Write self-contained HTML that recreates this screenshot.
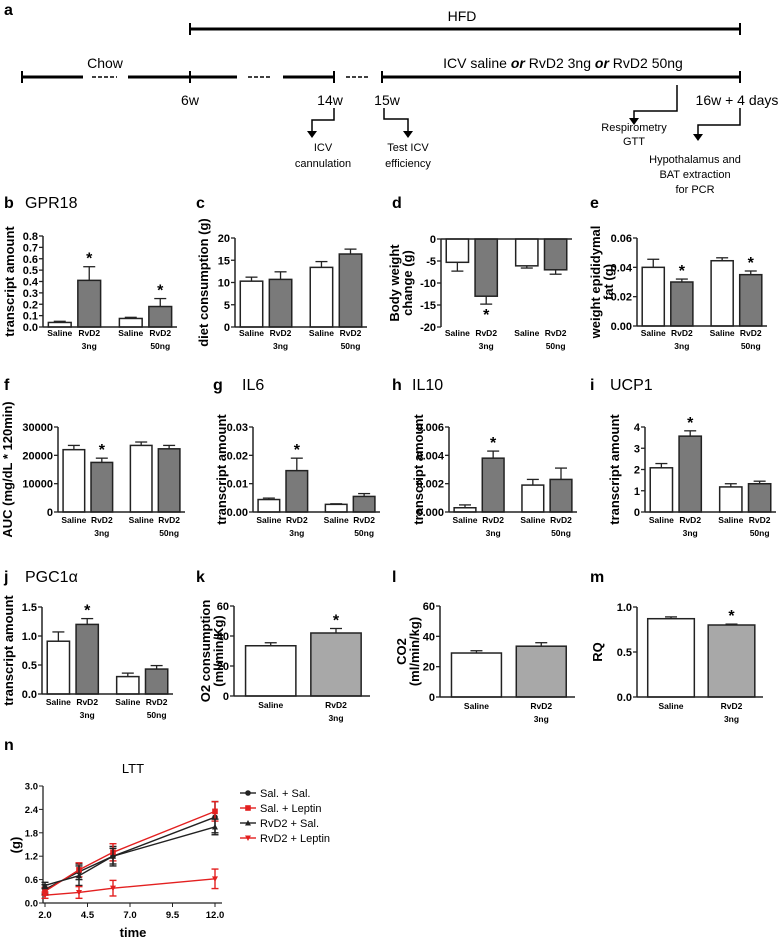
<!DOCTYPE html>
<html><head><meta charset="utf-8"><style>
body{margin:0;background:#fff}
svg{display:block;font-family:"Liberation Sans",sans-serif}
</style></head><body>
<svg id="fig" width="778" height="946" viewBox="0 0 778 946" xmlns="http://www.w3.org/2000/svg">
<g id="timeline" stroke="#000" fill="none">
<text x="4" y="15" font-size="16" font-weight="bold" fill="#000" stroke="none">a</text>
<line x1="190" y1="29" x2="740" y2="29" stroke-width="3"/>
<line x1="190" y1="23" x2="190" y2="35" stroke-width="2"/>
<line x1="740" y1="23" x2="740" y2="35" stroke-width="2"/>
<text x="462" y="21" font-size="14" text-anchor="middle" fill="#000" stroke="none">HFD</text>
<g stroke-width="3">
<line x1="22" y1="77" x2="83" y2="77"/><line x1="128" y1="77" x2="237" y2="77"/>
<line x1="283" y1="77" x2="334" y2="77"/><line x1="382" y1="77" x2="740" y2="77"/>
</g>
<g stroke-width="1.5" stroke-dasharray="4,2">
<line x1="92" y1="77" x2="117" y2="77"/><line x1="248" y1="77" x2="272" y2="77"/><line x1="346" y1="77" x2="370" y2="77"/>
</g>
<g stroke-width="2">
<line x1="22" y1="71" x2="22" y2="83"/><line x1="190" y1="71" x2="190" y2="83"/>
<line x1="334" y1="71" x2="334" y2="83"/><line x1="382" y1="71" x2="382" y2="83"/><line x1="740" y1="71" x2="740" y2="83"/>
</g>
<g fill="#000" stroke="none" font-size="14">
<text x="105" y="68" text-anchor="middle">Chow</text>
<text x="563" y="68" text-anchor="middle">ICV saline <tspan font-weight="bold" font-style="italic">or</tspan> RvD2 3ng <tspan font-weight="bold" font-style="italic">or</tspan> RvD2 50ng</text>
<text x="190" y="105" text-anchor="middle">6w</text>
<text x="330" y="105" text-anchor="middle">14w</text>
<text x="387" y="105" text-anchor="middle">15w</text>
<text x="737" y="105" text-anchor="middle">16w + 4 days</text>
</g>
<g stroke-width="1.5">
<polyline points="334,108 334,120 312,120 312,133"/>
<polyline points="384,108 384,119 408,119 408,133"/>
<polyline points="677,85 677,111 634,111 634,120"/>
<polyline points="740,108 740,125 698,125 698,136"/>
</g>
<g fill="#000" stroke="none">
<polygon points="307,131 317,131 312,138"/><polygon points="403,131 413,131 408,138"/>
<polygon points="629,118 639,118 634,125"/><polygon points="693,134 703,134 698,141"/>
</g>
<g fill="#000" stroke="none" font-size="11" text-anchor="middle">
<text x="323" y="151">ICV</text><text x="323" y="167">cannulation</text>
<text x="408" y="151">Test ICV</text><text x="408" y="167">efficiency</text>
<text x="634" y="131">Respirometry</text><text x="634" y="145">GTT</text>
<text x="695" y="163">Hypothalamus and</text><text x="695" y="178">BAT extraction</text><text x="695" y="193">for PCR</text>
</g>
</g>
<g id="letters" fill="#000" font-size="16" font-weight="bold">
<text x="4" y="208">b</text><text x="196" y="208">c</text><text x="392" y="208">d</text><text x="590" y="208">e</text>
<text x="4" y="390">f</text><text x="213" y="390">g</text><text x="392" y="390">h</text><text x="590" y="390">i</text>
<text x="4" y="582">j</text><text x="196" y="582">k</text><text x="392" y="582">l</text><text x="590" y="582">m</text>
<text x="4" y="750">n</text>
</g>
<g fill="#000" font-size="16">
<text x="25" y="208">GPR18</text><text x="242" y="390">IL6</text><text x="412" y="390">IL10</text><text x="610" y="390">UCP1</text>
<text x="25" y="582">PGC1α</text>
</g>
</svg>
<script>
const NS="http://www.w3.org/2000/svg";
const svg=document.getElementById('fig');
function mk(tag,attrs,parent,txt){const e=document.createElementNS(NS,tag);for(const k in attrs)e.setAttribute(k,attrs[k]);if(txt!==undefined)e.textContent=txt;(parent||svg).appendChild(e);return e;}

// ---- bar chart data ----
const bValues=[0.04,0.41,0.075,0.18]; const bErrors=[0.01,0.12,0.01,0.07]; const bStars=[0,1,0,1];
const bTicks=[0,0.1,0.2,0.3,0.4,0.5,0.6,0.7,0.8]; const bTickLabels=["0.0","0.1","0.2","0.3","0.4","0.5","0.6","0.7","0.8"];
const cValues=[10.3,10.7,13.4,16.4]; const cErrors=[0.9,1.7,1.3,1.1]; const cStars=[0,0,0,0];
const cTicks=[0,5,10,15,20]; const cTickLabels=["0","5","10","15","20"];
const dValues=[-5.3,-13,-6.1,-7]; const dErrors=[2,1.8,0.5,1]; const dStars=[0,1,0,0];
const dTicks=[-20,-15,-10,-5,0]; const dTickLabels=["-20","-15","-10","-5","0"];
const eValues=[0.040,0.030,0.0445,0.035]; const eErrors=[0.0055,0.002,0.002,0.0025]; const eStars=[0,1,0,1];
const eTicks=[0,0.02,0.04,0.06]; const eTickLabels=["0.00","0.02","0.04","0.06"];
const fValues=[22000,17500,23500,22300]; const fErrors=[1500,1500,1200,1200]; const fStars=[0,1,0,0];
const fTicks=[0,10000,20000,30000]; const fTickLabels=["0","10000","20000","30000"];
const gValues=[0.0044,0.0146,0.0027,0.0055]; const gErrors=[0.0005,0.0044,0.0002,0.001]; const gStars=[0,1,0,0];
const gTicks=[0,0.01,0.02,0.03]; const gTickLabels=["0.00","0.01","0.02","0.03"];
const hValues=[0.0003,0.0038,0.0019,0.0023]; const hErrors=[0.0002,0.0005,0.0004,0.0008]; const hStars=[0,1,0,0];
const hTicks=[0,0.002,0.004,0.006]; const hTickLabels=["0.000","0.002","0.004","0.006"];
const iValues=[2.08,3.57,1.18,1.33]; const iErrors=[0.2,0.25,0.15,0.12]; const iStars=[0,1,0,0];
const iTicks=[0,1,2,3,4]; const iTickLabels=["0","1","2","3","4"];
const jValues=[0.91,1.2,0.3,0.43]; const jErrors=[0.16,0.1,0.06,0.06]; const jStars=[0,1,0,0];
const jTicks=[0,0.5,1,1.5]; const jTickLabels=["0.0","0.5","1.0","1.5"];
const kValues=[33.5,42]; const kErrors=[2,3]; const kStars=[0,1];
const kTicks=[0,20,40,60]; const kTickLabels=["0","20","40","60"];
const lValues=[29,33.5]; const lErrors=[1.5,2.3]; const lStars=[0,0];
const lTicks=[0,20,40,60]; const lTickLabels=["0","20","40","60"];
const mValues=[0.87,0.80]; const mErrors=[0.02,0.01]; const mStars=[0,1];
const mTicks=[0,0.5,1]; const mTickLabels=["0.0","0.5","1.0"];
const cats4=[["Saline"],["RvD2","3ng"],["Saline"],["RvD2","50ng"]];
const cats2=[["Saline"],["RvD2","3ng"]];

function barPanel(o){
  const g=mk('g',{});
  
  
  const ymin=o.ticks[0], ymax=o.ticks[o.ticks.length-1];
  const Y=v=>o.yB+(v-ymin)/(ymax-ymin)*(o.yT-o.yB);
  const L=o.xE-o.ax;
  const n=o.values.length;
  const centers=n===4?[0.125,0.345,0.655,0.875]:[0.27,0.75];
  const w=n===4?0.17*L:0.37*L;
  const base=Y(Math.max(ymin,Math.min(0,ymax)));
  o.values.forEach((v,i)=>{
    const cx=o.ax+centers[i]*L, top=Math.min(Y(v),base), h=Math.abs(Y(v)-base);
    const dark=i%2===1;
    const r=mk('rect',{x:cx-w/2,y:top,width:w,height:h,fill:dark?o.fill:'#fff',stroke:'#222','stroke-width':1.5},g);
    
    
    const sgn=v<0?-1:1, ev=v+sgn*o.errors[i];
    mk('line',{x1:cx,x2:cx,y1:Y(v),y2:Y(ev),stroke:'#222','stroke-width':1.3},g);
    mk('line',{x1:cx-6,x2:cx+6,y1:Y(ev),y2:Y(ev),stroke:'#222','stroke-width':1.3},g);
    if(o.stars[i]){
      const sy=v<0?Y(ev)+16:Y(ev)-3;
      const s=mk('text',{x:cx,y:sy,'font-size':16,'font-weight':'bold','text-anchor':'middle'},g,'*');
      
      
    }
    const cl=o.cats[i];
    cl.forEach((t,k)=>{mk('text',{x:cx,y:o.labY+k*13,'font-size':8.5,'font-weight':'bold','text-anchor':'middle'},g,t);});
  });
  mk('line',{x1:o.ax,x2:o.ax,y1:o.yT,y2:o.yB,stroke:'#222','stroke-width':1.5},g);
  mk('line',{x1:o.ax,x2:o.xE,y1:base,y2:base,stroke:'#222','stroke-width':1.5},g);
  o.ticks.forEach((t,k)=>{
    mk('line',{x1:o.ax-4,x2:o.ax,y1:Y(t),y2:Y(t),stroke:'#222','stroke-width':1.3},g);
    mk('text',{x:o.ax-5,y:Y(t)+4,'font-size':11,'font-weight':'bold','text-anchor':'end'},g,o.tickLabels[k]);
  });
  const yc=(o.yT+o.yB)/2;
  o.title.forEach((t,k)=>{
    const x=o.tx+k*13;
    const tt=mk('text',{x:x,y:yc,'font-size':o.tfs||13,'font-weight':'bold','text-anchor':'middle',transform:`rotate(-90 ${x} ${yc})`},g,t);
    
    
  });
}
const D='#7a7a7a', LG='#a8a8a8';
barPanel({name:'chart-b-gpr18',ax:43,yT:236,yB:327,xE:177,values:bValues,errors:bErrors,stars:bStars,ticks:bTicks,tickLabels:bTickLabels,cats:cats4,labY:336,fill:D,title:['transcript amount'],tx:14});
barPanel({name:'chart-c-diet',ax:235,yT:238,yB:327,xE:367,values:cValues,errors:cErrors,stars:cStars,ticks:cTicks,tickLabels:cTickLabels,cats:cats4,labY:336,fill:D,title:['diet consumption (g)'],tx:208});
barPanel({name:'chart-d-bodyweight',ax:441,yT:239,yB:327,xE:572,values:dValues,errors:dErrors,stars:dStars,ticks:dTicks,tickLabels:dTickLabels,cats:cats4,labY:336,fill:D,title:['Body weight','change (g)'],tx:399});
barPanel({name:'chart-e-fat',ax:637,yT:238,yB:326,xE:767,values:eValues,errors:eErrors,stars:eStars,ticks:eTicks,tickLabels:eTickLabels,cats:cats4,labY:336,fill:D,title:['weight epididymal','fat (g)'],tx:600});
barPanel({name:'chart-f-auc',ax:58,yT:427,yB:512,xE:185,values:fValues,errors:fErrors,stars:fStars,ticks:fTicks,tickLabels:fTickLabels,cats:cats4,labY:523,fill:D,title:['AUC (mg/dL * 120min)'],tx:12});
barPanel({name:'chart-g-il6',ax:253,yT:427,yB:512,xE:380,values:gValues,errors:gErrors,stars:gStars,ticks:gTicks,tickLabels:gTickLabels,cats:cats4,labY:523,fill:D,title:['transcript amount'],tx:226});
barPanel({name:'chart-h-il10',ax:449,yT:427,yB:512,xE:577,values:hValues,errors:hErrors,stars:hStars,ticks:hTicks,tickLabels:hTickLabels,cats:cats4,labY:523,fill:D,title:['transcript amount'],tx:423});
barPanel({name:'chart-i-ucp1',ax:645,yT:427,yB:512,xE:776,values:iValues,errors:iErrors,stars:iStars,ticks:iTicks,tickLabels:iTickLabels,cats:cats4,labY:523,fill:D,title:['transcript amount'],tx:619});
barPanel({name:'chart-j-pgc1a',ax:42,yT:607,yB:694,xE:173,values:jValues,errors:jErrors,stars:jStars,ticks:jTicks,tickLabels:jTickLabels,cats:cats4,labY:705,fill:D,title:['transcript amount'],tx:13});
barPanel({name:'chart-k-o2',ax:234,yT:606,yB:696,xE:370,values:kValues,errors:kErrors,stars:kStars,ticks:kTicks,tickLabels:kTickLabels,cats:cats2,labY:708,fill:LG,title:['O2 consumption','(ml/min/Kg)'],tx:210});
barPanel({name:'chart-l-co2',ax:440,yT:606,yB:697,xE:575,values:lValues,errors:lErrors,stars:lStars,ticks:lTicks,tickLabels:lTickLabels,cats:cats2,labY:709,fill:LG,title:['CO2','(ml/min/kg)'],tx:406});
barPanel({name:'chart-m-rq',ax:637,yT:607,yB:697,xE:763,values:mValues,errors:mErrors,stars:mStars,ticks:mTicks,tickLabels:mTickLabels,cats:cats2,labY:709,fill:LG,title:['RQ'],tx:602});

// ---- LTT line chart ----
const lttTimes=[2,4,6,12];
const salSal=[0.35,0.8,1.2,2.2]; const salSalErr=[0.12,0.2,0.25,0.4];
const salLep=[0.3,0.85,1.3,2.35]; const salLepErr=[0.1,0.18,0.22,0.25];
const rvdSal=[0.45,0.7,1.2,1.95]; const rvdSalErr=[0.08,0.25,0.2,0.2];
const rvdLep=[0.2,0.27,0.38,0.62]; const rvdLepErr=[0.08,0.15,0.2,0.25];
const lttYTicks=[0,0.6,1.2,1.8,2.4,3.0]; const lttYLabels=["0.0","0.6","1.2","1.8","2.4","3.0"];
const lttXTicks=[2,4.5,7,9.5,12]; const lttXLabels=["2.0","4.5","7.0","9.5","12.0"];
const seriesNames=["Sal. + Sal.","Sal. + Leptin","RvD2 + Sal.","RvD2 + Leptin"];
(function(){
  const g=mk('g',{});
  
  
  const X=t=>45+(t-2)/10*170, Y=v=>903-v/3*117;
  mk('text',{x:133,y:773,'font-size':13,'text-anchor':'middle'},g,'LTT');
  mk('line',{x1:43,x2:43,y1:Y(3),y2:903,stroke:'#222','stroke-width':1.3},g);
  mk('line',{x1:43,x2:222,y1:903,y2:903,stroke:'#222','stroke-width':1.3},g);
  lttYTicks.forEach((t,k)=>{mk('line',{x1:39,x2:43,y1:Y(t),y2:Y(t),stroke:'#222'},g);
    mk('text',{x:38,y:Y(t)+3.5,'font-size':9.5,'font-weight':'bold','text-anchor':'end'},g,lttYLabels[k]);});
  lttXTicks.forEach((t,k)=>{mk('line',{x1:X(t),x2:X(t),y1:903,y2:907,stroke:'#222'},g);
    mk('text',{x:X(t),y:918,'font-size':9.5,'font-weight':'bold','text-anchor':'middle'},g,lttXLabels[k]);});
  mk('text',{x:133,y:937,'font-size':13,'font-weight':'bold','text-anchor':'middle'},g,'time');
  mk('text',{x:20,y:845,'font-size':13,'font-weight':'bold','text-anchor':'middle',transform:'rotate(-90 20 845)'},g,'(g)');
  const S=[[salSal,salSalErr,'#222','c'],[salLep,salLepErr,'#e32020','s'],[rvdSal,rvdSalErr,'#222','t'],[rvdLep,rvdLepErr,'#e32020','v']];
  function marker(x,y,m,col,p){
    if(m==='c')mk('circle',{cx:x,cy:y,r:2.8,fill:col},p);
    else if(m==='s')mk('rect',{x:x-2.8,y:y-2.8,width:5.6,height:5.6,fill:col},p);
    else if(m==='t')mk('polygon',{points:`${x-3},${y+2.5} ${x+3},${y+2.5} ${x},${y-3}`,fill:col},p);
    else mk('polygon',{points:`${x-3},${y-2.5} ${x+3},${y-2.5} ${x},${y+3}`,fill:col},p);
  }
  S.forEach((s,si)=>{
    const sg=mk('g',{},g);
    
    
    mk('polyline',{points:lttTimes.map((t,i)=>X(t)+','+Y(s[0][i])).join(' '),fill:'none',stroke:s[2],'stroke-width':1.4},sg);
    lttTimes.forEach((t,i)=>{
      const x=X(t),a=Y(s[0][i]+s[1][i]),b=Y(Math.max(0,s[0][i]-s[1][i]));
      mk('line',{x1:x,x2:x,y1:a,y2:b,stroke:s[2],'stroke-width':1.4},sg);
      mk('line',{x1:x-3.5,x2:x+3.5,y1:a,y2:a,stroke:s[2],'stroke-width':1.4},sg);
      mk('line',{x1:x-3.5,x2:x+3.5,y1:b,y2:b,stroke:s[2],'stroke-width':1.4},sg);
      marker(x,Y(s[0][i]),s[3],s[2],sg);
    });
    const ly=793+si*15;
    const le=mk('g',{},g);
    
    
    mk('line',{x1:240,x2:256,y1:ly,y2:ly,stroke:s[2],'stroke-width':1.4},le);
    marker(248,ly,s[3],s[2],le);
    mk('text',{x:260,y:ly+4,'font-size':11},le,seriesNames[si]);
  });
})();
</script>
</body></html>
